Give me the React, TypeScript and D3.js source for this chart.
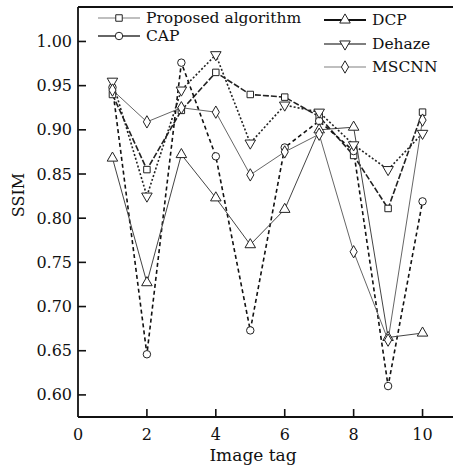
import { scaleLinear, line, symbol, symbolSquare, symbolCircle, symbolTriangle, symbolDiamond } from "d3";

const W = 453;
const H = 469;
const MARGIN = { top: 7, left: 78, bottom: 52, right: -4 };

const imageTags = [1, 2, 3, 4, 5, 6, 7, 8, 9, 10];
const proposed = [0.94, 0.855, 0.922, 0.965, 0.94, 0.937, 0.915, 0.871, 0.811, 0.92];
const cap = [0.948, 0.646, 0.976, 0.87, 0.673, 0.88, 0.91, 0.876, 0.61, 0.819];
const dcp = [0.868, 0.727, 0.872, 0.823, 0.77, 0.81, 0.9, 0.903, 0.665, 0.67];
const dehaze = [0.955, 0.825, 0.945, 0.985, 0.885, 0.928, 0.92, 0.883, 0.855, 0.896];
const mscnn = [0.945, 0.909, 0.925, 0.92, 0.849, 0.875, 0.895, 0.762, 0.662, 0.911];

const xTicks = [0, 2, 4, 6, 8, 10];
const yTicks = [0.6, 0.65, 0.7, 0.75, 0.8, 0.85, 0.9, 0.95, 1.0];

const FONT = "'DejaVu Serif', 'Liberation Serif', serif";

const series = [
  { name: "Proposed algorithm", values: proposed, shape: "square", stroke: "#222", dash: "6 2", legend: "#aaa" },
  { name: "CAP", values: cap, shape: "circle", stroke: "#111", dash: "4 3", legend: "#333" },
  { name: "DCP", values: dcp, shape: "up", stroke: "#444", dash: "", legend: "#111" },
  { name: "Dehaze", values: dehaze, shape: "down", stroke: "#222", dash: "2 2", legend: "#555" },
  { name: "MSCNN", values: mscnn, shape: "diamond", stroke: "#666", dash: "", legend: "#aaa" },
];

const legendPos = [
  { x: 98, y: 18 },
  { x: 98, y: 36 },
  { x: 324, y: 20 },
  { x: 324, y: 44 },
  { x: 324, y: 67 },
];

function Marker({ shape, x, y }: { shape: string; x: number; y: number }) {
  let d = "";
  let rot = 0;
  if (shape === "square") d = symbol(symbolSquare, 42)() || "";
  if (shape === "circle") d = symbol(symbolCircle, 44)() || "";
  if (shape === "up") d = symbol(symbolTriangle, 48)() || "";
  if (shape === "down") {
    d = symbol(symbolTriangle, 48)() || "";
    rot = 180;
  }
  if (shape === "diamond") d = symbol(symbolDiamond, 44)() || "";
  return (
    <path
      d={d}
      transform={`translate(${x},${y}) rotate(${rot})`}
      fill="#fff"
      stroke="#222"
      strokeWidth={1}
    />
  );
}

export default function App() {
  const boundsW = W - MARGIN.left - MARGIN.right;
  const boundsH = H - MARGIN.top - MARGIN.bottom;
  const xScale = scaleLinear().domain([0, 11]).range([MARGIN.left, MARGIN.left + boundsW]);
  const yScale = scaleLinear().domain([0.575, 1.039]).range([MARGIN.top + boundsH, MARGIN.top]);
  const path = line<number>()
    .x((_, i) => xScale(imageTags[i]))
    .y((d) => yScale(d));

  const x0 = MARGIN.left;
  const y0 = MARGIN.top + boundsH;

  return (
    <div style={{ position: "absolute", left: 0, top: 0 }}>
      <svg width={W} height={H} style={{ display: "block", background: "#fff" }}>
        {/* lines */}
        {series.map((s) => (
          <path
            key={s.name}
            d={path(s.values) || ""}
            fill="none"
            stroke={s.stroke}
            strokeWidth={s.dash ? 1.6 : 1}
            strokeDasharray={s.dash}
          />
        ))}
        {series.map((s) =>
          s.values.map((v, i) => (
            <Marker key={s.name + i} shape={s.shape} x={xScale(imageTags[i])} y={yScale(v)} />
          ))
        )}

        {/* frame */}
        <line x1={x0} x2={x0} y1={MARGIN.top} y2={y0} stroke="#111" strokeWidth={1.8} />
        <line x1={x0} x2={W} y1={y0} y2={y0} stroke="#111" strokeWidth={1.8} />
        <line x1={x0} x2={W} y1={MARGIN.top} y2={MARGIN.top} stroke="#111" strokeWidth={1.8} />

        {/* y ticks */}
        {yTicks.map((t) => (
          <g key={t}>
            <line x1={x0} x2={x0 + 8} y1={yScale(t)} y2={yScale(t)} stroke="#111" strokeWidth={1.6} />
            <text
              x={x0 - 6}
              y={yScale(t)}
              textAnchor="end"
              dominantBaseline="central"
              fontFamily={FONT}
              fontSize={16}
              fill="#111"
            >
              {t.toFixed(2)}
            </text>
          </g>
        ))}

        {/* x ticks */}
        {xTicks.map((t) => (
          <g key={t}>
            {t > 0 && (
              <line x1={xScale(t)} x2={xScale(t)} y1={y0} y2={y0 - 8} stroke="#111" strokeWidth={1.6} />
            )}
            <text
              x={xScale(t)}
              y={y0 + 17}
              textAnchor="middle"
              dominantBaseline="central"
              fontFamily={FONT}
              fontSize={16}
              fill="#111"
            >
              {t}
            </text>
          </g>
        ))}

        <text x={253} y={455} textAnchor="middle" dominantBaseline="central" fontFamily={FONT} fontSize={17} fill="#111">
          Image tag
        </text>
        <text
          transform="translate(18,195) rotate(-90)"
          textAnchor="middle"
          dominantBaseline="central"
          fontFamily={FONT}
          fontSize={16}
          fill="#111"
        >
          SSIM
        </text>

        {/* legend */}
        {series.map((s, i) => {
          const p = legendPos[i];
          return (
            <g key={s.name}>
              <line x1={p.x} x2={p.x + 42} y1={p.y} y2={p.y} stroke={s.legend} strokeWidth={s.shape === "up" ? 2 : 1.3} />
              <Marker shape={s.shape} x={p.x + 21} y={p.y} />
              <text
                x={p.x + 48}
                y={p.y}
                dominantBaseline="central"
                fontFamily={FONT}
                fontSize={15.5}
                fill="#111"
              >
                {s.name}
              </text>
            </g>
          );
        })}
      </svg>
    </div>
  );
}
